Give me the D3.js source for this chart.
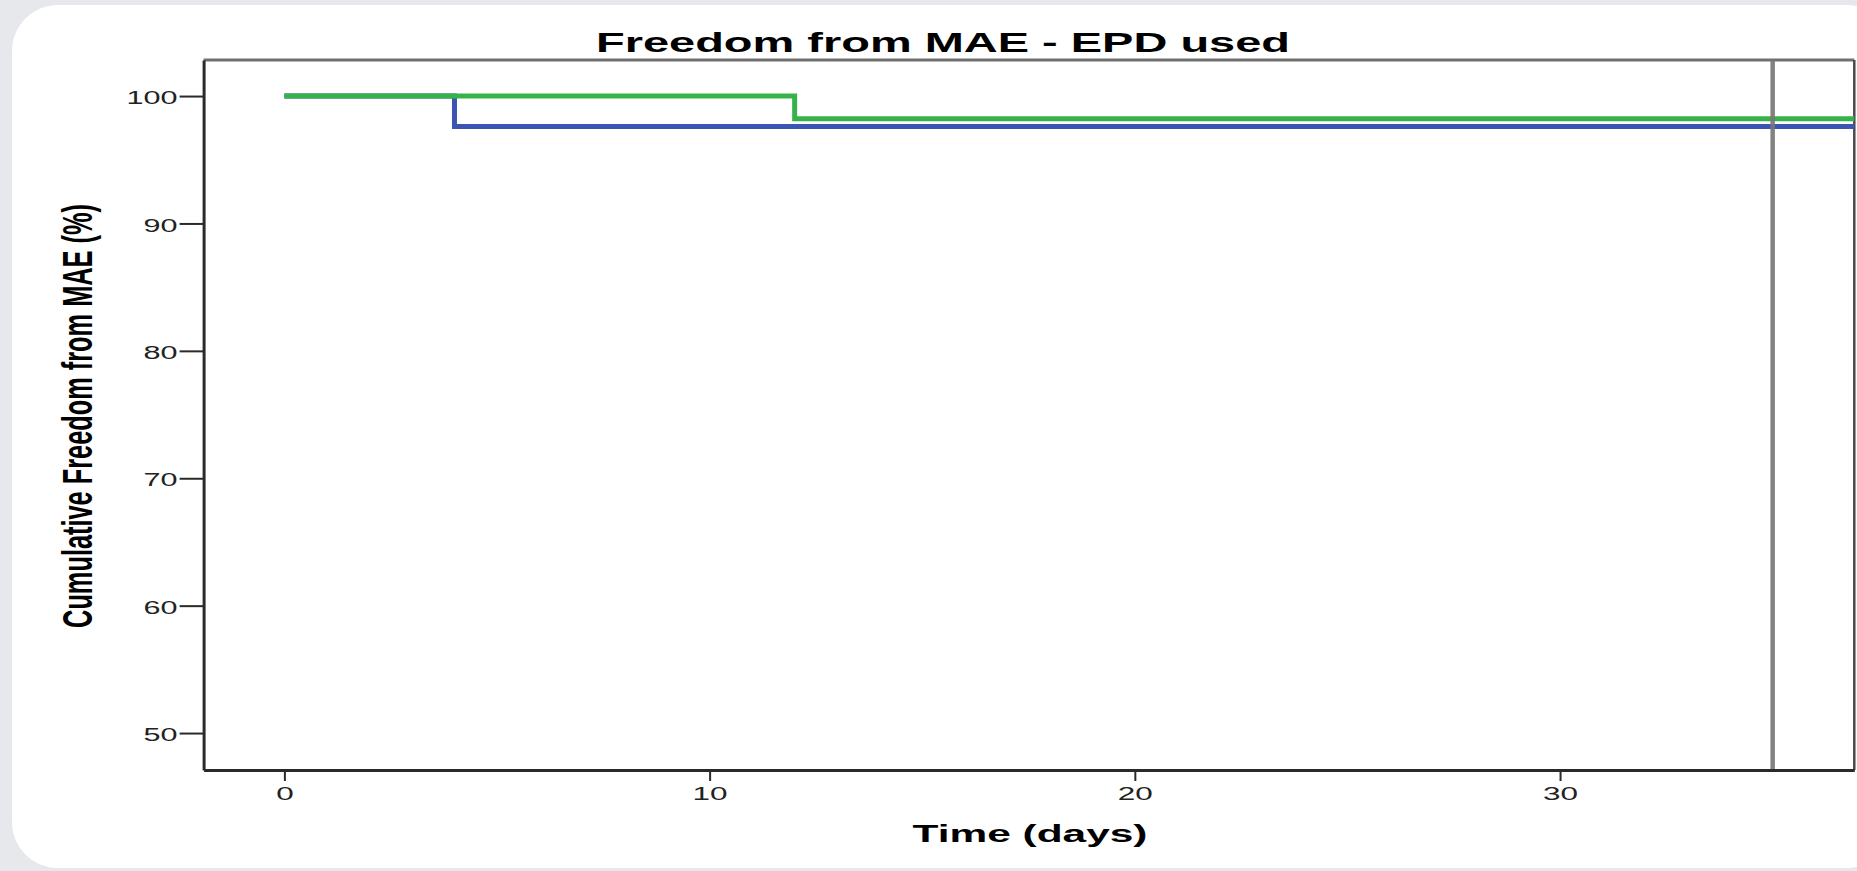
<!DOCTYPE html>
<html>
<head>
<meta charset="utf-8">
<script src="https://cdn.jsdelivr.net/npm/d3@7"></script>
<style>
  html, body { margin: 0; padding: 0; background: #e6e8eb; overflow: hidden; }
  svg { display: block; }
</style>
</head>
<body>
<script>
// ---- data ----
const chartTitle = "Freedom from MAE - EPD used";
const xLabel = "Time (days)";
const yLabel = "Cumulative Freedom from MAE (%)";
const xTicks = [0, 10, 20, 30];
const yTicks = [50, 60, 70, 80, 90, 100];
const xDomain = [-1.9, 36.92];
const yDomain = [47.1, 102.83];
const blueTimes = [0, 4, 36.92];
const blueSurv = [100, 97.62, 97.62];
const greenTimes = [0, 12, 36.92];
const greenSurv = [100, 98.21, 98.21];
const referenceDay = [35];

// ---- layout ----
const W = 1857, H = 871;
const L = 203.6, R = 1854.3, T = 60, B = 770;

const svg = d3.select("body").append("svg").attr("width", W).attr("height", H);

// background card
svg.append("rect").attr("x", 0).attr("y", 0).attr("width", W).attr("height", H).attr("fill", "#e6e8eb");
svg.append("rect").attr("x", 12).attr("y", 5).attr("width", 1880).attr("height", 863)
  .attr("rx", 46).attr("ry", 46).attr("fill", "#ffffff");

const x = d3.scaleLinear().domain(xDomain).range([L, R]);
const y = d3.scaleLinear().domain(yDomain).range([B, T]);

// frame top/right
svg.append("line").attr("x1", L).attr("x2", R).attr("y1", T).attr("y2", T)
  .attr("stroke", "#707070").attr("stroke-width", 3);
svg.append("line").attr("x1", R).attr("x2", R).attr("y1", T).attr("y2", B)
  .attr("stroke", "#4a4a4a").attr("stroke-width", 2.5);

// curves
const line = d3.line().x(d => x(d[0])).y(d => y(d[1])).curve(d3.curveStepAfter);
const blueData = blueTimes.map((t, i) => [t, blueSurv[i]]);
const greenData = greenTimes.map((t, i) => [t, greenSurv[i]]);
svg.append("path").datum(blueData).attr("d", line)
  .attr("fill", "none").attr("stroke", "#3b55b3").attr("stroke-width", 5);
svg.append("path").datum(greenData).attr("d", line)
  .attr("fill", "none").attr("stroke", "#35b34a").attr("stroke-width", 5);

// reference line
svg.selectAll(".ref").data(referenceDay).enter().append("line")
  .attr("x1", d => x(d)).attr("x2", d => x(d)).attr("y1", T).attr("y2", B)
  .attr("stroke", "#787878").attr("stroke-width", 4.5).attr("opacity", 0.92);

// axes
const yAxis = d3.axisLeft(y).tickValues(yTicks).tickSize(24).tickPadding(2).tickSizeOuter(0);
const gy = svg.append("g").attr("transform", `translate(${L},0)`).call(yAxis);
gy.select(".domain").attr("stroke", "#2a2a2a").attr("stroke-width", 3);
gy.selectAll(".tick line").attr("stroke", "#2a2a2a").attr("stroke-width", 2);
gy.selectAll(".tick text")
  .attr("font-family", "'Liberation Sans', Arial, sans-serif")
  .attr("font-size", 18).attr("fill", "#222")
  .attr("dy", "0.42em")
  .attr("textLength", d => String(d).length * 17)
  .attr("lengthAdjust", "spacingAndGlyphs");

const xAxis = d3.axisBottom(x).tickValues(xTicks).tickSize(11).tickPadding(6).tickSizeOuter(0);
const gx = svg.append("g").attr("transform", `translate(0,${B})`).call(xAxis);
gx.select(".domain").attr("stroke", "#2a2a2a").attr("stroke-width", 3);
gx.selectAll(".tick line").attr("stroke", "#2a2a2a").attr("stroke-width", 2);
gx.selectAll(".tick text")
  .attr("font-family", "'Liberation Sans', Arial, sans-serif")
  .attr("font-size", 18).attr("fill", "#222")
  .attr("dy", "0.71em")
  .attr("textLength", d => String(d).length * 17.5)
  .attr("lengthAdjust", "spacingAndGlyphs");

// title
svg.append("text").attr("x", 943).attr("y", 51.5).attr("text-anchor", "middle")
  .attr("font-family", "'Liberation Sans', Arial, sans-serif").attr("font-weight", "bold")
  .attr("font-size", 28).attr("fill", "#000")
  .attr("textLength", 694).attr("lengthAdjust", "spacingAndGlyphs")
  .text(chartTitle);

// x label
svg.append("text").attr("x", 1030).attr("y", 842).attr("text-anchor", "middle")
  .attr("font-family", "'Liberation Sans', Arial, sans-serif").attr("font-weight", "bold")
  .attr("font-size", 23.5).attr("fill", "#000")
  .attr("textLength", 235).attr("lengthAdjust", "spacingAndGlyphs")
  .text(xLabel);

// y label: natural text, stretched along its direction with a scale transform
const yl = svg.append("text").attr("text-anchor", "middle")
  .attr("font-family", "'Liberation Sans Narrow', 'Liberation Sans', Arial, sans-serif").attr("font-weight", "bold")
  .attr("font-size", 43).attr("fill", "#000")
  .text(yLabel);
const natural = yl.node().getComputedTextLength() || 424;
const sx = 424 / natural;
yl.attr("transform", `translate(92,416) rotate(-90) scale(${sx},1)`);
</script>
</body>
</html>
